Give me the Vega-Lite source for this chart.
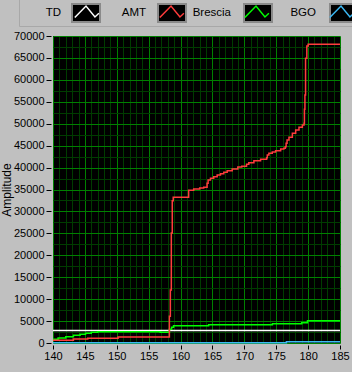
{
  "$schema": "https://vega.github.io/schema/vega-lite/v6.json",
  "width": 287,
  "height": 307,
  "autosize": {"type": "none"},
  "padding": {"left": 53, "top": 36, "right": 12, "bottom": 29},
  "background": "#c0c0c0",
  "config": {
    "view": {"fill": "#000000", "stroke": null},
    "font": "Liberation Sans",
    "axis": {"labelFont": "Liberation Sans", "titleFont": "Liberation Sans"},
    "legend": {"labelFont": "Liberation Sans"}
  },
  "data": {
    "values": [
      {"series": "TD", "t": 140, "amp": 2850},
      {"series": "TD", "t": 185, "amp": 2850},
      {"series": "BGO", "t": 140, "amp": 60},
      {"series": "BGO", "t": 176.6, "amp": 260},
      {"series": "BGO", "t": 185, "amp": 260},
      {"series": "Brescia", "t": 140, "amp": 840},
      {"series": "Brescia", "t": 140.8, "amp": 1140},
      {"series": "Brescia", "t": 142.0, "amp": 1440},
      {"series": "Brescia", "t": 143.2, "amp": 1750},
      {"series": "Brescia", "t": 144.25, "amp": 1980},
      {"series": "Brescia", "t": 145.1, "amp": 2210},
      {"series": "Brescia", "t": 146.0, "amp": 2440},
      {"series": "Brescia", "t": 147.0, "amp": 2580},
      {"series": "Brescia", "t": 156.8, "amp": 2450},
      {"series": "Brescia", "t": 158.25, "amp": 3120},
      {"series": "Brescia", "t": 158.6, "amp": 3580},
      {"series": "Brescia", "t": 158.9, "amp": 3950},
      {"series": "Brescia", "t": 164.4, "amp": 4170},
      {"series": "Brescia", "t": 174.4, "amp": 4400},
      {"series": "Brescia", "t": 179.0, "amp": 4630},
      {"series": "Brescia", "t": 179.9, "amp": 5080},
      {"series": "Brescia", "t": 185, "amp": 5080},
      {"series": "AMT", "t": 140, "amp": 615},
      {"series": "AMT", "t": 143.2, "amp": 910},
      {"series": "AMT", "t": 145.45, "amp": 1070},
      {"series": "AMT", "t": 150.2, "amp": 1370},
      {"series": "AMT", "t": 158.25, "amp": 6100},
      {"series": "AMT", "t": 158.4, "amp": 12080},
      {"series": "AMT", "t": 158.55, "amp": 25080},
      {"series": "AMT", "t": 158.7, "amp": 32440},
      {"series": "AMT", "t": 158.85, "amp": 33220},
      {"series": "AMT", "t": 161.27, "amp": 34815},
      {"series": "AMT", "t": 162.06, "amp": 35110},
      {"series": "AMT", "t": 163.0, "amp": 35340},
      {"series": "AMT", "t": 163.63, "amp": 35500},
      {"series": "AMT", "t": 164.16, "amp": 36410},
      {"series": "AMT", "t": 164.32, "amp": 37160},
      {"series": "AMT", "t": 164.69, "amp": 37550},
      {"series": "AMT", "t": 165.2, "amp": 37920},
      {"series": "AMT", "t": 165.74, "amp": 38300},
      {"series": "AMT", "t": 166.26, "amp": 38600},
      {"series": "AMT", "t": 166.78, "amp": 38920},
      {"series": "AMT", "t": 167.31, "amp": 39280},
      {"series": "AMT", "t": 168.1, "amp": 39670},
      {"series": "AMT", "t": 168.98, "amp": 40130},
      {"series": "AMT", "t": 169.6, "amp": 40290},
      {"series": "AMT", "t": 170.35, "amp": 40740},
      {"series": "AMT", "t": 170.7, "amp": 41110},
      {"series": "AMT", "t": 171.5, "amp": 41560},
      {"series": "AMT", "t": 172.55, "amp": 41880},
      {"series": "AMT", "t": 173.5, "amp": 42250},
      {"series": "AMT", "t": 173.6, "amp": 42860},
      {"series": "AMT", "t": 173.85, "amp": 43250},
      {"series": "AMT", "t": 174.38, "amp": 43550},
      {"series": "AMT", "t": 174.9, "amp": 43840},
      {"series": "AMT", "t": 175.7, "amp": 44230},
      {"series": "AMT", "t": 176.2, "amp": 44390},
      {"series": "AMT", "t": 176.43, "amp": 44760},
      {"series": "AMT", "t": 176.55, "amp": 45530},
      {"series": "AMT", "t": 176.7, "amp": 46280},
      {"series": "AMT", "t": 177.0, "amp": 46900},
      {"series": "AMT", "t": 177.53, "amp": 47810},
      {"series": "AMT", "t": 178.05, "amp": 48560},
      {"series": "AMT", "t": 178.57, "amp": 49180},
      {"series": "AMT", "t": 179.1, "amp": 49700},
      {"series": "AMT", "t": 179.36, "amp": 50090},
      {"series": "AMT", "t": 179.42, "amp": 53280},
      {"series": "AMT", "t": 179.5, "amp": 56540},
      {"series": "AMT", "t": 179.6, "amp": 64910},
      {"series": "AMT", "t": 179.8, "amp": 67720},
      {"series": "AMT", "t": 180.0, "amp": 68100},
      {"series": "AMT", "t": 185, "amp": 68100}
    ]
  },
  "encoding": {
    "x": {
      "field": "t",
      "type": "quantitative",
      "scale": {"domain": [140, 185], "nice": false, "zero": false},
      "axis": {
        "title": null,
        "values": [140,141,142,143,144,145,146,147,148,149,150,151,152,153,154,155,156,157,158,159,160,161,162,163,164,165,166,167,168,169,170,171,172,173,174,175,176,177,178,179,180,181,182,183,184,185],
        "format": "d",
        "labelExpr": "datum.value % 5 === 0 ? datum.label : ''",
        "labelOverlap": false,
        "labelFlush": false,
        "labelBound": false,
        "labelFontSize": 11,
        "labelColor": "#000000",
        "labelPadding": 1,
        "domain": false,
        "tickSize": 4,
        "offset": 2,
        "tickColor": {"condition": {"test": "datum.value % 5 === 0", "value": "#000000"}, "value": "transparent"},
        "grid": true,
        "gridWidth": 1,
        "gridOpacity": 1,
        "gridColor": {"condition": {"test": "datum.value % 5 === 0", "value": "#008000"}, "value": "#003c00"}
      }
    },
    "y": {
      "field": "amp",
      "type": "quantitative",
      "scale": {"domain": [0, 70000], "nice": false},
      "axis": {
        "title": "Amplitude",
        "titleFontWeight": "normal",
        "titleFontSize": 12,
        "titleColor": "#000000",
        "titleX": -40.5,
        "titleY": 153.5,
        "titleAngle": -90,
        "titleAlign": "center",
        "titleBaseline": "alphabetic",
        "values": [0,2500,5000,7500,10000,12500,15000,17500,20000,22500,25000,27500,30000,32500,35000,37500,40000,42500,45000,47500,50000,52500,55000,57500,60000,62500,65000,67500,70000],
        "format": "d",
        "labelExpr": "datum.value % 5000 === 0 ? datum.label : ''",
        "labelOverlap": false,
        "labelFlush": false,
        "labelBound": false,
        "labelFontSize": 11,
        "labelColor": "#000000",
        "labelPadding": 2,
        "domain": false,
        "tickSize": 5,
        "offset": 2,
        "tickColor": {"condition": {"test": "datum.value % 5000 === 0", "value": "#000000"}, "value": "transparent"},
        "grid": true,
        "gridWidth": 1,
        "gridOpacity": 1,
        "gridColor": {"condition": {"test": "datum.value % 5000 === 0", "value": "#008000"}, "value": "#003c00"}
      }
    }
  },
  "layer": [
    {
      "mark": {"type": "point", "filled": true, "opacity": 0},
      "encoding": {
        "fill": {
          "field": "series",
          "type": "nominal",
          "sort": ["TD", "AMT", "Brescia", "BGO"],
          "scale": {"range": ["#000000", "#000000", "#000000", "#000000"]},
          "legend": {
            "title": null,
            "orient": "none",
            "legendX": -34,
            "legendY": -38,
            "direction": "horizontal",
            "gridAlign": "all",
            "symbolType": "M-1,-0.64H1V0.64H-1Z",
            "symbolSize": 784,
            "symbolFillColor": "#000000",
            "symbolStrokeColor": "#8a8a8a",
            "symbolStrokeWidth": 2,
            "symbolOpacity": 1,
            "symbolOffset": 52,
            "labelOffset": -40,
            "labelAlign": "right",
            "labelExpr": "''",
            "labelColor": "transparent",
            "labelFontSize": 11.5,
            "columnPadding": 1,
            "padding": 0,
            "fillColor": "#c0c0c0",
            "strokeColor": "#a8a8a8"
          }
        }
      }
    },
    {
      "mark": {"type": "line", "interpolate": "step-after"},
      "encoding": {
        "stroke": {
          "field": "series",
          "type": "nominal",
          "scale": {"domain": ["TD", "AMT", "Brescia", "BGO"], "range": ["#ffffff", "#ff3c3c", "#00ff00", "#3cb9f5"]},
          "legend": {
            "title": null,
            "orient": "none",
            "legendX": -34,
            "legendY": -38,
            "direction": "horizontal",
            "gridAlign": "all",
            "symbolType": "M-1,-0.64M1,0.64M-0.8,0.32L0,-0.5L0.64,0.28L0.92,0.02",
            "symbolSize": 784,
            "symbolFillColor": "transparent",
            "symbolStrokeWidth": 2,
            "symbolOpacity": 1,
            "symbolOffset": 52,
            "labelOffset": -40,
            "labelAlign": "right",
            "labelColor": "#000000",
            "labelFontSize": 11.5,
            "columnPadding": 1,
            "padding": 0
          }
        },
        "strokeWidth": {
          "field": "series",
          "type": "ordinal",
          "scale": {"domain": ["TD", "AMT", "Brescia", "BGO"], "range": [1.5, 1.5, 3, 3]},
          "legend": null
        }
      }
    }
  ]
}
